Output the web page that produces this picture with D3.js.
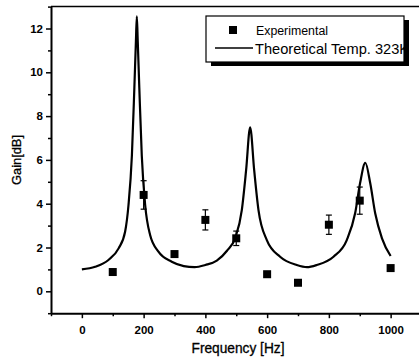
<!DOCTYPE html>
<html><head><meta charset="utf-8">
<script src="https://cdn.jsdelivr.net/npm/d3@7"></script>
<style>body{margin:0;background:#fff}svg{display:block;font-family:"Liberation Sans",Arial,sans-serif}</style>
</head><body>
<svg id="c" width="419" height="359"></svg>
<script>
const expFreq = [100, 200, 300, 400, 500, 600, 700, 800, 900, 1000];
const expGain = [0.88, 4.4, 1.7, 3.26, 2.42, 0.78, 0.39, 3.04, 4.14, 1.06];
const expErr  = [0, 0.65, 0.12, 0.46, 0.33, 0, 0, 0.44, 0.62, 0];

const theoryFreq = [0, 43, 86, 119, 140, 151, 162, 170, 175, 178, 181, 186, 194, 205, 221, 248, 291, 330, 365, 400, 437, 470, 497, 518, 532, 545, 558, 572, 599, 642, 696, 729, 761, 815, 858, 885, 901, 918, 934, 950, 972, 1000];
const theoryGain = [1.0, 1.12, 1.43, 1.96, 2.72, 3.94, 6.2, 9.3, 11.4, 12.55, 11.4, 9.3, 6.2, 3.94, 2.57, 1.81, 1.35, 1.15, 1.1, 1.2, 1.4, 1.85, 2.45, 3.71, 5.54, 7.49, 5.54, 3.71, 2.34, 1.58, 1.2, 1.1, 1.2, 1.58, 2.34, 3.56, 4.93, 5.87, 4.93, 3.56, 2.42, 1.61];

const xMajor = [0, 200, 400, 600, 800, 1000];
const xMinor = [-100, 100, 300, 500, 700, 900, 1100];
const yMajor = [0, 2, 4, 6, 8, 10, 12];
const yMinor = [-1, 1, 3, 5, 7, 9, 11, 13];
const legendLabels = ["Experimental", "Theoretical Temp. 323K"];

const svg = d3.select("#c");
const x = d3.scaleLinear().domain([-100, 1100]).range([51, 421.5]);
const y = d3.scaleLinear().domain([-1, 13]).range([313.2, 6.6]);

// frame
svg.append("line").attr("x1", x(-100)).attr("x2", 419).attr("y1", y(13)).attr("y2", y(13)).attr("stroke", "#000").attr("stroke-width", 1.5);

const xAxis = svg.append("g").attr("transform", `translate(0,${y(-1)})`)
  .call(d3.axisBottom(x).tickValues(xMajor).tickSize(5).tickSizeOuter(0).tickFormat(d3.format("d")));
svg.append("g").attr("transform", `translate(0,${y(-1)})`)
  .call(d3.axisBottom(x).tickValues(xMinor).tickSize(3).tickSizeOuter(0).tickFormat(""))
  .select(".domain").remove();
const yAxis = svg.append("g").attr("transform", `translate(${x(-100)},0)`)
  .call(d3.axisLeft(y).tickValues(yMajor).tickSize(5).tickSizeOuter(0).tickFormat(d3.format("d")));
svg.append("g").attr("transform", `translate(${x(-100)},0)`)
  .call(d3.axisLeft(y).tickValues(yMinor).tickSize(3).tickSizeOuter(0).tickFormat(""))
  .select(".domain").remove();
svg.selectAll(".domain").attr("stroke-width", 2);
svg.selectAll(".tick line").attr("stroke-width", 1.5);
svg.selectAll(".tick text").attr("font-size", 11.5).attr("font-weight", "bold").attr("fill", "#000")
  .attr("font-family", '"Liberation Sans",Arial,sans-serif');
xAxis.selectAll(".tick text").attr("dy", "1.15em");

svg.append("text").attr("x", 238).attr("y", 353).attr("text-anchor", "middle")
  .attr("font-size", 14).attr("stroke", "#000").attr("stroke-width", 0.3)
  .attr("textLength", 93).attr("lengthAdjust", "spacingAndGlyphs").text("Frequency [Hz]");
svg.append("text").attr("transform", "translate(21,160) rotate(-90)").attr("text-anchor", "middle")
  .attr("font-size", 13).attr("stroke", "#000").attr("stroke-width", 0.3)
  .attr("textLength", 50).attr("lengthAdjust", "spacingAndGlyphs").text("Gain[dB]");

// theory curve
const line = d3.line().x(d => x(d[0])).y(d => y(d[1])).curve(d3.curveMonotoneX);
svg.append("path").datum(theoryFreq.map((f, i) => [f, theoryGain[i]]))
  .attr("d", line).attr("fill", "none").attr("stroke", "#000").attr("stroke-width", 2.2);

// experimental
const pts = expFreq.map((f, i) => ({f, g: expGain[i], e: expErr[i]}));
const eb = svg.append("g").attr("stroke", "#000").attr("stroke-width", 1.2);
pts.filter(d => d.e > 0).forEach(d => {
  eb.append("line").attr("x1", x(d.f)).attr("x2", x(d.f)).attr("y1", y(d.g - d.e)).attr("y2", y(d.g + d.e));
  [d.g - d.e, d.g + d.e].forEach(v => eb.append("line").attr("x1", x(d.f) - 3).attr("x2", x(d.f) + 3).attr("y1", y(v)).attr("y2", y(v)));
});
svg.append("g").selectAll("rect").data(pts).join("rect")
  .attr("x", d => x(d.f) - 4).attr("y", d => y(d.g) - 4).attr("width", 8).attr("height", 8).attr("fill", "#000");

// legend
const lx = 206, ly = 16, lw = 198, lh = 46;
svg.append("defs").append("clipPath").attr("id", "lgclip").append("rect")
  .attr("x", lx).attr("y", ly).attr("width", lw).attr("height", lh);
const lg = svg.append("g");
lg.append("rect").attr("x", lx + 5).attr("y", ly + 4).attr("width", lw).attr("height", lh).attr("fill", "#000");
lg.append("rect").attr("x", lx).attr("y", ly).attr("width", lw).attr("height", lh).attr("fill", "#fff");
const lt = lg.append("g").attr("clip-path", "url(#lgclip)");
lt.append("rect").attr("x", 229).attr("y", 26).attr("width", 8).attr("height", 8).attr("fill", "#000");
lt.append("line").attr("x1", 215).attr("x2", 253).attr("y1", 48).attr("y2", 48).attr("stroke", "#000").attr("stroke-width", 1.5);
lt.append("text").attr("x", 256).attr("y", 35).attr("font-size", 12.5)
  .attr("textLength", 72).attr("lengthAdjust", "spacingAndGlyphs").text(legendLabels[0]);
lt.append("text").attr("x", 255).attr("y", 54).attr("font-size", 14.5)
  .attr("textLength", 154).attr("lengthAdjust", "spacingAndGlyphs").text(legendLabels[1]);
lg.append("rect").attr("x", lx).attr("y", ly).attr("width", lw).attr("height", lh).attr("fill", "none").attr("stroke", "#000").attr("stroke-width", 1.2);
</script>
</body></html>
